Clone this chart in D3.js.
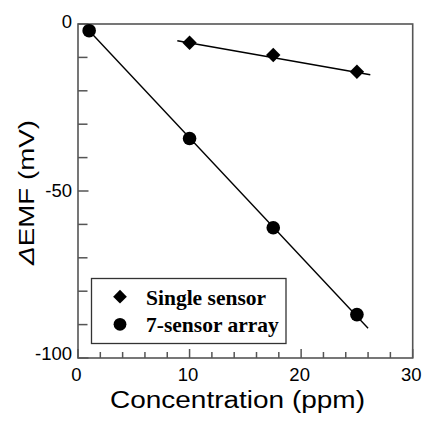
<!DOCTYPE html>
<html><head><meta charset="utf-8">
<script src="https://cdn.jsdelivr.net/npm/d3@7"></script>
<style>html,body{margin:0;padding:0;background:#fff;}</style>
</head><body>
<svg id="c" width="423" height="426"></svg>
<script>
// data
const concentration = [1, 10, 17.5, 25];
const arrayValues = [-2.0, -34.3, -61.0, -87.0];
const singleConc = [10, 17.5, 25];
const singleValues = [-5.6, -9.3, -14.3];
const singleFitX = [8.9, 26.2];
const singleFitY = [-5.0, -15.2];
const arrayFitX = [1, 26];
const arrayFitY = [-2.0, -91.1];
const xMajorTicks = [0, 10, 20, 30];
const xMinorTicks = [2, 4, 6, 8, 12, 14, 16, 18, 22, 24, 26, 28];
const yMajorTicks = [0, -50, -100];
const yMinorTicks = [-10, -20, -30, -40, -60, -70, -80, -90];
const legendLabels = ["Single sensor", "7-sensor array"];

const svg = d3.select("#c");
const L = 78, R = 412.7, T = 24, B = 358;
const x = d3.scaleLinear().domain([0, 30]).range([L, R]);
const y = d3.scaleLinear().domain([-100, 0]).range([B, T]);
const frameColor = "#555";

// ticks (inward)
const g = svg.append("g");
g.selectAll(".xm").data(xMajorTicks).enter().append("line")
  .attr("x1", d => x(d)).attr("x2", d => x(d)).attr("y1", B).attr("y2", B - 9)
  .attr("stroke", frameColor).attr("stroke-width", 1.5);
g.selectAll(".xn").data(xMinorTicks).enter().append("line")
  .attr("x1", d => x(d)).attr("x2", d => x(d)).attr("y1", B).attr("y2", B - 6)
  .attr("stroke", frameColor).attr("stroke-width", 1.5);
g.selectAll(".ym").data(yMajorTicks).enter().append("line")
  .attr("y1", d => y(d)).attr("y2", d => y(d)).attr("x1", L).attr("x2", L + 10.5)
  .attr("stroke", frameColor).attr("stroke-width", 1.5);
g.selectAll(".yn").data(yMinorTicks).enter().append("line")
  .attr("y1", d => y(d)).attr("y2", d => y(d)).attr("x1", L).attr("x2", L + 9.5)
  .attr("stroke", frameColor).attr("stroke-width", 1.5);

// frame
svg.append("rect").attr("x", L).attr("y", T).attr("width", R - L).attr("height", B - T)
  .attr("fill", "none").attr("stroke", frameColor).attr("stroke-width", 1.6);

// tick labels
const tickFont = "'Liberation Sans', Arial, sans-serif";
svg.selectAll(".xl").data(xMajorTicks).enter().append("text")
  .attr("x", d => x(d) - 1.5).attr("y", 381)
  .attr("text-anchor", "middle").attr("font-family", tickFont).attr("font-size", 18.5)
  .attr("fill", "#000").text(d => d);
svg.selectAll(".yl").data(yMajorTicks).enter().append("text")
  .attr("x", 72).attr("y", d => y(d) + (d === -100 ? 1.5 : d === 0 ? 3.5 : 5.5))
  .attr("text-anchor", "end").attr("font-family", tickFont).attr("font-size", 18.5)
  .attr("fill", "#000").text(d => d);

// axis titles
svg.append("text").attr("x", 237.5).attr("y", 407.5)
  .attr("text-anchor", "middle").attr("font-family", tickFont).attr("font-size", 23.5)
  .attr("textLength", 255).attr("lengthAdjust", "spacingAndGlyphs")
  .attr("fill", "#000").text("Concentration (ppm)");
const yt = svg.append("text").attr("transform", "translate(34,192.5) rotate(-90)")
  .attr("text-anchor", "middle").attr("font-family", tickFont).attr("font-size", 22.5)
  .attr("textLength", 145).attr("lengthAdjust", "spacingAndGlyphs").attr("fill", "#000");
yt.append("tspan").attr("font-style", "italic").text("Δ");
yt.append("tspan").text("EMF (mV)");

// fit lines
const line = d3.line().x(d => x(d[0])).y(d => y(d[1]));
svg.append("path").datum(singleFitX.map((v, i) => [v, singleFitY[i]]))
  .attr("d", line).attr("stroke", "#000").attr("stroke-width", 1.4).attr("fill", "none");
svg.append("path").datum(arrayFitX.map((v, i) => [v, arrayFitY[i]]))
  .attr("d", line).attr("stroke", "#000").attr("stroke-width", 1.4).attr("fill", "none");

// markers
const diamond = d3.symbol().type(d3.symbolSquare).size(104);
svg.selectAll(".dm").data(singleConc).enter().append("path")
  .attr("d", diamond)
  .attr("transform", (d, i) => `translate(${x(d)},${y(singleValues[i])}) rotate(45)`)
  .attr("fill", "#000");
svg.selectAll(".ci").data(concentration).enter().append("circle")
  .attr("cx", d => x(d)).attr("cy", (d, i) => y(arrayValues[i])).attr("r", 6.8)
  .attr("fill", "#000");

// legend
const lg = svg.append("g");
lg.append("rect").attr("x", 91.5).attr("y", 278.5).attr("width", 194.5).attr("height", 65)
  .attr("fill", "#fff").attr("stroke", "#333").attr("stroke-width", 1.3);
lg.append("path").attr("d", d3.symbol().type(d3.symbolSquare).size(94))
  .attr("transform", "translate(120,296.7) rotate(45)").attr("fill", "#000");
lg.append("circle").attr("cx", 120).attr("cy", 324.3).attr("r", 6.4).attr("fill", "#000");
lg.selectAll(".lt").data(legendLabels).enter().append("text")
  .attr("x", 146).attr("y", (d, i) => 304.5 + i * 27.5)
  .attr("font-family", "'Liberation Serif', 'Times New Roman', serif")
  .attr("font-weight", "bold").attr("font-size", 21.5).attr("fill", "#000").text(d => d);
</script>
</body></html>
